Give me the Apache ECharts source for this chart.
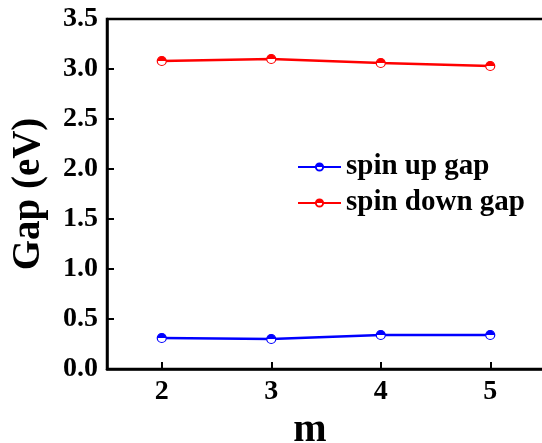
<!DOCTYPE html>
<html>
<head>
<meta charset="utf-8">
<script src="https://cdn.jsdelivr.net/npm/echarts@6/dist/echarts.min.js"></script>
<style>
  html, body { margin: 0; padding: 0; background: #fff; }
  #main { width: 542px; height: 443px; }
</style>
</head>
<body>
<div id="main"></div>
<script>
// data
const mValues = [2, 3, 4, 5]
const spinUpGap = [0.31, 0.30, 0.34, 0.34]
const spinDownGap = [3.08, 3.10, 3.06, 3.03]
const yTicks = [0, 0.5, 1.0, 1.5, 2.0, 2.5, 3.0, 3.5]

const font = 'Liberation Serif'
const blue = '#0000ff'
const red = '#ff0000'

// half filled marker: top half coloured, bottom half white
function halfFill(color) {
  return {
    type: 'linear', x: 0, y: 0, x2: 0, y2: 1,
    colorStops: [
      { offset: 0, color: color },
      { offset: 0.5, color: color },
      { offset: 0.5, color: '#fff' },
      { offset: 1, color: '#fff' }
    ]
  }
}

function makeSeries(name, values, color) {
  return {
    name: name,
    type: 'line',
    data: mValues.map((m, i) => [m, values[i]]),
    symbol: 'circle',
    symbolSize: 9,
    lineStyle: { color: color, width: 2.5 },
    itemStyle: { color: halfFill(color), borderColor: color, borderWidth: 1.2 }
  }
}

const chart = echarts.init(document.getElementById('main'))
const option = {
  animation: false,
  grid: {
    left: 107, top: 19, right: -3, bottom: 74,
    outerBoundsMode: 'none',
    containLabel: false,
    show: true, borderColor: '#000', borderWidth: 2.5
  },
  legend: {
    orient: 'vertical',
    left: 292,
    top: 147,
    itemWidth: 43,
    itemHeight: 9,
    itemGap: 6,
    textStyle: { fontFamily: font, fontWeight: 'bold', fontSize: 29, lineHeight: 30, color: '#000' },
    data: ['spin up gap', 'spin down gap']
  },
  xAxis: {
    type: 'value',
    min: 1.5,
    max: 5.5,
    interval: 1,
    name: 'm',
    nameLocation: 'middle',
    nameGap: 37,
    nameTextStyle: { fontFamily: font, fontWeight: 'bold', fontSize: 40, color: '#000', padding: [0, 32, 0, 0] },
    splitLine: { show: false },
    axisLine: { lineStyle: { color: '#000', width: 2.5 } },
    axisTick: { inside: true, length: 7, lineStyle: { width: 2 }, customValues: mValues },
    axisLabel: {
      fontFamily: font, fontWeight: 'bold', fontSize: 28, color: '#000', margin: 9,
      customValues: mValues
    }
  },
  yAxis: {
    type: 'value',
    min: 0,
    max: 3.5,
    interval: 0.5,
    name: 'Gap (eV)',
    nameLocation: 'middle',
    nameGap: 59,
    nameTextStyle: { fontFamily: font, fontWeight: 'bold', fontSize: 39, color: '#000' },
    splitLine: { show: false },
    axisLine: { lineStyle: { color: '#000', width: 2.5 } },
    axisTick: { inside: true, length: 7, lineStyle: { width: 2 } },
    axisLabel: {
      fontFamily: font, fontWeight: 'bold', fontSize: 28, color: '#000', margin: 9,
      customValues: yTicks,
      formatter: v => v.toFixed(1)
    }
  },
  series: [
    makeSeries('spin up gap', spinUpGap, blue),
    makeSeries('spin down gap', spinDownGap, red)
  ]
}
chart.setOption(option)
</script>
</body>
</html>
